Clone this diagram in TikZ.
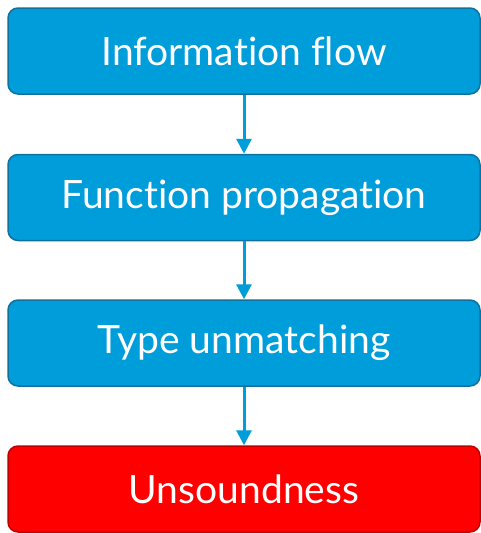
\documentclass[tikz,border=0pt]{standalone}
\usepackage{fontspec}
\setmainfont{Lato}[Ligatures={NoCommon}]
\usetikzlibrary{arrows.meta}
\definecolor{boxblue}{HTML}{009DDB}
\definecolor{boxblueline}{HTML}{10719F}
\definecolor{boxred}{HTML}{FF0000}
\definecolor{boxredline}{HTML}{C00000}
\begin{document}
\begin{tikzpicture}[x=1pt, y=-1pt,
  stage/.style={draw=boxblueline, fill=boxblue, line width=1.5pt, rounded corners=10pt,
    minimum width=472pt, minimum height=86pt, text=white, font=\fontsize{39}{39}\selectfont},
  badstage/.style={stage, draw=boxredline, fill=boxred},
  flow/.style={boxblue, line width=3pt, -{Triangle[length=15pt,width=15pt]}}]
\useasboundingbox (0,0) rectangle (481,533);

\node[stage] (info) at (244,51){Information flow};
\node[stage] (func) at (244,197.5){Function propagation};
\node[stage] (type) at (244,343){Type unmatching};
\node[badstage] (unsound) at (244,489){Unsoundness};

\draw[flow] (info) -- (func);
\draw[flow] (func) -- (type);
\draw[flow] (type) -- (unsound);
\end{tikzpicture}
\end{document}
